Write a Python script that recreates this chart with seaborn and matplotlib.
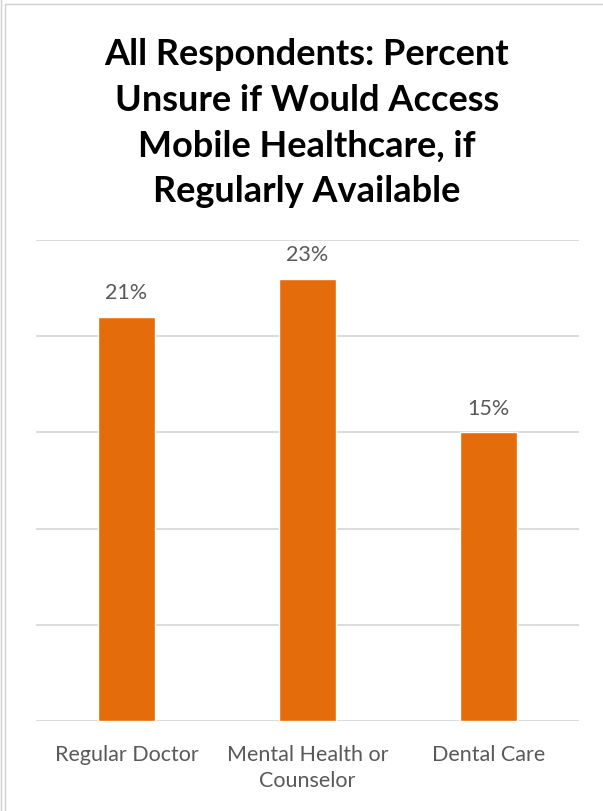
import matplotlib
matplotlib.use('Agg')
import matplotlib.pyplot as plt
import seaborn as sns
import pandas as pd
from matplotlib.lines import Line2D

#----------------------------------------------------------------------------------------------------------------------#
# Data
#----------------------------------------------------------------------------------------------------------------------#

categories = ['Regular Doctor', 'Mental Health or\nCounselor', 'Dental Care']
pct_unsure = [21, 23, 15]
y_ticks = [0, 5, 10, 15, 20, 25]

title = 'All Respondents: Percent\nUnsure if Would Access\nMobile Healthcare, if\nRegularly Available'

# Styles
bar_color = '#E46C0A'
grid_color = '#D9D9D9'
text_color = '#595959'

#----------------------------------------------------------------------------------------------------------------------#
# Plot
#----------------------------------------------------------------------------------------------------------------------#

sns.set_style('white')
plt.rcParams['font.family'] = ['Lato', 'DejaVu Sans']

df = pd.DataFrame({'cat': categories, 'pct': pct_unsure})

fig = plt.figure(figsize=(6.03, 8.11), dpi=100)
ax = fig.add_axes([0.0597, 0.111, 0.9005, 0.593])

sns.barplot(data=df, x='cat', y='pct', color=bar_color, width=0.315, saturation=1, ax=ax, zorder=3)

ax.set_ylim(0, 25)
ax.set_yticks(y_ticks)
ax.yaxis.grid(True, color=grid_color, linewidth=1.3, zorder=0)
ax.set_yticklabels([])
ax.tick_params(axis='y', length=0)
ax.tick_params(axis='x', length=0, labelsize=15.5, labelcolor=text_color, pad=17)
for lbl in ax.get_xticklabels():
    lbl.set_linespacing(1.4)
ax.set_xlabel('')
ax.set_ylabel('')
for s in ax.spines.values():
    s.set_visible(False)

ax.bar_label(ax.containers[0], labels=[f'{v}%' for v in pct_unsure], padding=10, fontsize=15.5, color=text_color)

fig.text(0.509, 0.953, title, ha='center', va='top', fontsize=26, fontweight='bold',
         color='black', linespacing=1.47)

# Chart frame (left and top edges only)
frame_color = '#D0D0D0'
fig.add_artist(Line2D([0.001, 0.001], [0, 1], transform=fig.transFigure, color=frame_color, lw=1))
fig.add_artist(Line2D([0.009, 0.009], [0, 0.995], transform=fig.transFigure, color=frame_color, lw=1))
fig.add_artist(Line2D([0.009, 1], [0.995, 0.995], transform=fig.transFigure, color=frame_color, lw=1))

fig.savefig('out.png', dpi=100)
